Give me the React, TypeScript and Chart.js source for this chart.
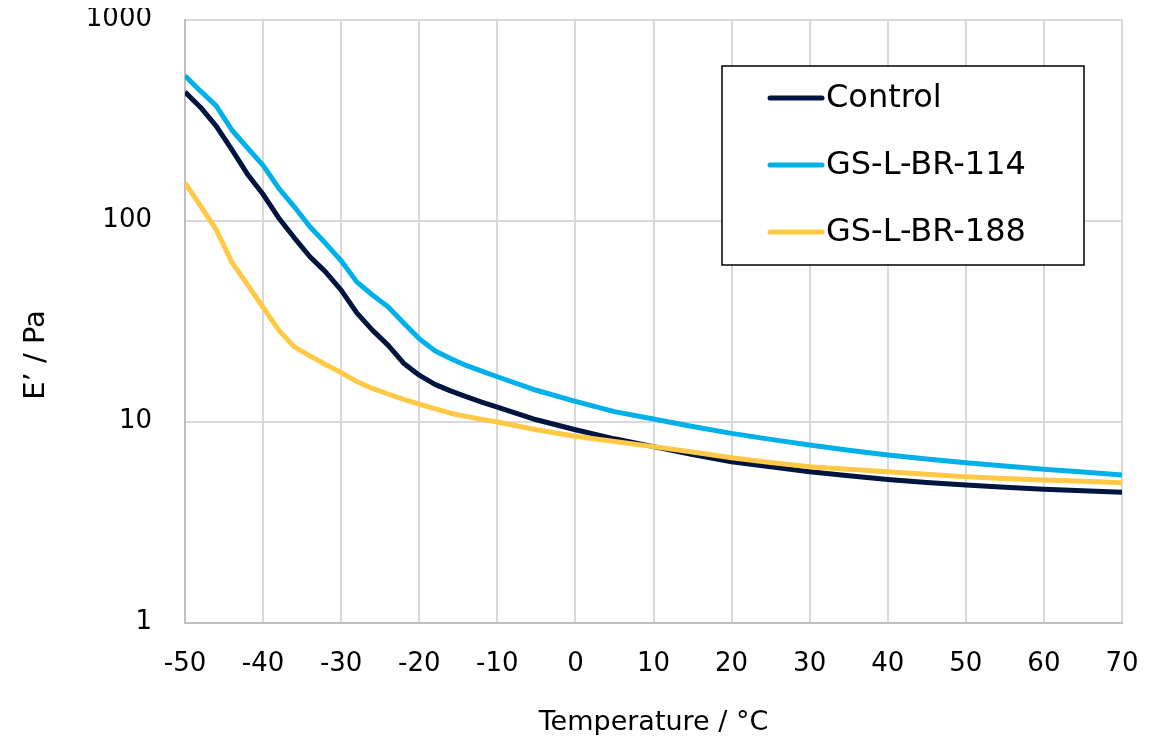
import React, { useEffect, useRef } from "react";
import { Chart, registerables } from "chart.js";

Chart.register(...registerables);

// ---- Data ----
const temperatures = [
  -50, -48, -46, -44, -42, -40, -38, -36, -34, -32, -30, -28, -26, -24, -22, -20,
  -18, -16, -14, -12, -10, -5, 0, 5, 10, 15, 20, 25, 30, 35, 40, 45, 50, 55, 60, 65, 70,
];

const controlValues = [
  436, 365, 295, 225, 170, 135, 103, 82, 66, 55.5, 45, 34.7, 28.5, 24, 19.5, 17,
  15.3, 14.2, 13.3, 12.5, 11.8, 10.2, 9.1, 8.2, 7.5, 6.85, 6.3, 5.95, 5.63, 5.37, 5.15, 4.97, 4.83, 4.71, 4.6, 4.52, 4.45,
];

const gs114Values = [
  525, 440, 372, 282, 230, 188, 145, 117, 93, 77, 63, 49.5, 42.6, 37.2, 30.9, 25.8,
  22.5, 20.6, 19.0, 17.8, 16.7, 14.3, 12.6, 11.2, 10.3, 9.45, 8.73, 8.15, 7.64, 7.2, 6.81, 6.5, 6.24, 6.0, 5.78, 5.6, 5.42,
];

const gs188Values = [
  154, 118, 90, 62, 48, 37, 28.5, 23.5, 21.2, 19.2, 17.5, 15.8, 14.6, 13.7, 12.9, 12.2,
  11.6, 11.0, 10.6, 10.25, 9.95, 9.1, 8.45, 7.95, 7.5, 7.05, 6.6, 6.25, 5.96, 5.78, 5.63, 5.46, 5.31, 5.2, 5.12, 5.04, 4.96,
];

const seriesLabels = ["Control", "GS-L-BR-114", "GS-L-BR-188"];
const seriesColors = ["#001440", "#00B0E8", "#FFC845"];
const yTickValues = [1, 10, 100, 1000];
const xTitle = "Temperature / °C";
const yTitle = "E’ / Pa";

const FONT = "'DejaVu Sans', sans-serif";

const toPoints = (vals: number[]) => temperatures.map((t, i) => ({ x: t, y: vals[i] }));

const boxLegend = {
  id: "boxLegend",
  afterDraw(chart: any) {
    const { ctx, chartArea } = chart;
    const x0 = chartArea.left + 537;
    const y0 = chartArea.top + 46.5;
    const w = 362;
    const h = 199;
    ctx.save();
    ctx.fillStyle = "#ffffff";
    ctx.fillRect(x0, y0, w, h);
    ctx.strokeStyle = "#000000";
    ctx.lineWidth = 1.5;
    ctx.strokeRect(x0, y0, w, h);
    chart.data.datasets.forEach((ds: any, i: number) => {
      const y = y0 + 32 + i * 67;
      ctx.beginPath();
      ctx.strokeStyle = ds.borderColor;
      ctx.lineWidth = 5;
      ctx.lineCap = "round";
      ctx.moveTo(x0 + 48, y);
      ctx.lineTo(x0 + 100, y);
      ctx.stroke();
      ctx.fillStyle = "#000000";
      ctx.font = `32px ${FONT}`;
      ctx.textBaseline = "middle";
      ctx.textAlign = "left";
      ctx.fillText(ds.label, x0 + 104, y + 1);
    });
    ctx.restore();
  },
};

const yTitlePlugin = {
  id: "yTitlePlugin",
  afterDraw(chart: any) {
    const { ctx, chartArea } = chart;
    ctx.save();
    ctx.translate(28.5, (chartArea.top + chartArea.bottom) / 2 + 34);
    ctx.rotate(-Math.PI / 2);
    ctx.fillStyle = "#000000";
    ctx.font = `29px ${FONT}`;
    ctx.textAlign = "center";
    ctx.textBaseline = "middle";
    ctx.fillText(yTitle, 0, 0);
    ctx.restore();
  },
};

export default function App() {
  const canvasRef = useRef<HTMLCanvasElement | null>(null);

  useEffect(() => {
    if (!canvasRef.current) return;
    const chart = new Chart(canvasRef.current, {
      type: "line",
      data: {
        datasets: [
          {
            label: seriesLabels[0],
            data: toPoints(controlValues),
            borderColor: seriesColors[0],
            backgroundColor: seriesColors[0],
            borderWidth: 5,
            pointRadius: 0,
            tension: 0,
            borderJoinStyle: "round",
            order: 2,
          },
          {
            label: seriesLabels[1],
            data: toPoints(gs114Values),
            borderColor: seriesColors[1],
            backgroundColor: seriesColors[1],
            borderWidth: 5,
            pointRadius: 0,
            tension: 0,
            borderJoinStyle: "round",
            order: 1,
          },
          {
            label: seriesLabels[2],
            data: toPoints(gs188Values),
            borderColor: seriesColors[2],
            backgroundColor: seriesColors[2],
            borderWidth: 5,
            pointRadius: 0,
            tension: 0,
            borderJoinStyle: "round",
            order: 0,
          },
        ],
      },
      options: {
        responsive: false,
        animation: false,
        layout: { padding: { top: 11.5, right: 35, left: 0, bottom: 0 } },
        plugins: {
          legend: { display: false },
          tooltip: { enabled: false },
        },
        scales: {
          x: {
            type: "linear",
            min: -50,
            max: 70,
            ticks: {
              stepSize: 10,
              padding: 26,
              color: "#000000",
              font: { family: FONT, size: 26 },
              maxRotation: 0,
            },
            grid: { color: "#d9d9d9", lineWidth: 2, drawTicks: false },
            border: { color: "#bfbfbf", width: 2 },
            title: {
              display: true,
              text: xTitle,
              color: "#000000",
              font: { family: FONT, size: 27, lineHeight: 0.9 },
              padding: { top: 0, bottom: 0 },
            },
            afterFit: (scale: any) => {
              scale.height = 112.5;
              scale.paddingLeft = 0;
              scale.paddingRight = 0;
            },
          },
          y: {
            type: "logarithmic",
            min: 1,
            max: 1000,
            afterBuildTicks: (scale: any) => {
              scale.ticks = yTickValues.map((v) => ({ value: v }));
            },
            ticks: {
              padding: 33,
              color: "#000000",
              font: { family: FONT, size: 26 },
              callback: (v: any) => String(v),
            },
            grid: { color: "#d9d9d9", lineWidth: 2, drawTicks: false },
            border: { color: "#bfbfbf", width: 2 },
            afterFit: (scale: any) => {
              scale.width = 177;
              scale.paddingTop = 0;
              scale.paddingBottom = 0;
            },
          },
        },
      },
      plugins: [boxLegend, yTitlePlugin],
    } as any);
    return () => chart.destroy();
  }, []);

  return (
    <div style={{ width: 1149, height: 727 }}>
      <canvas ref={canvasRef} width={1149} height={727} />
    </div>
  );
}
